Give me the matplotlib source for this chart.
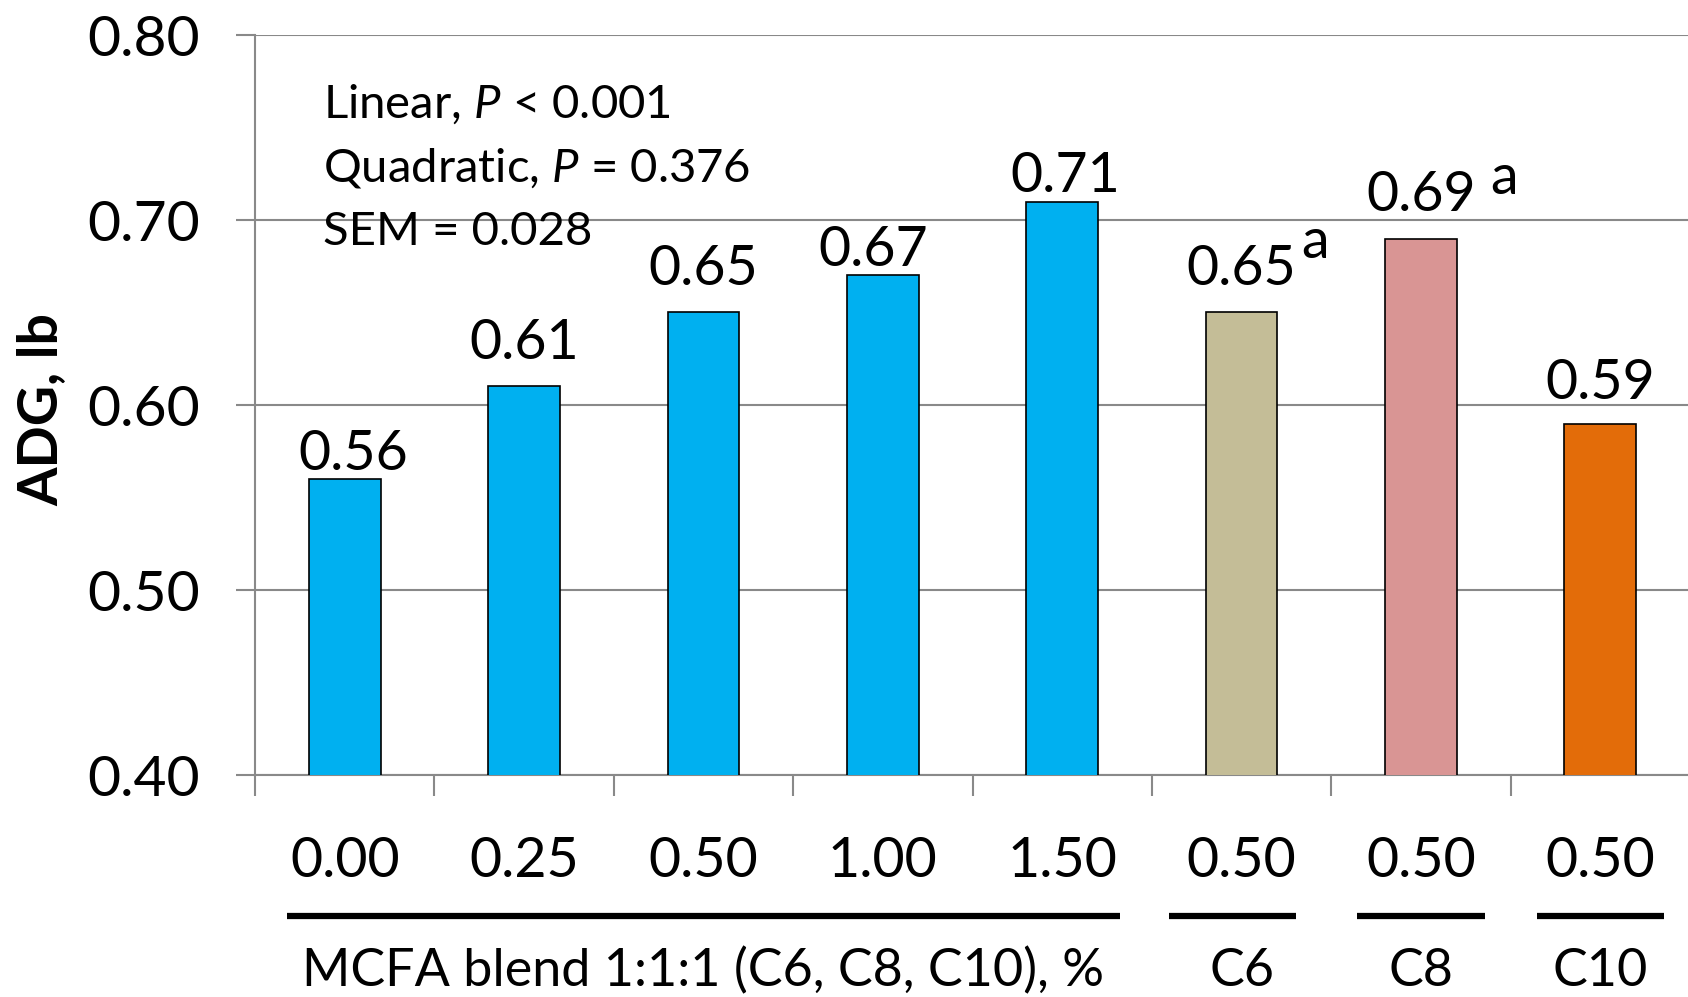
import numpy as np
import matplotlib as mpl
import matplotlib.pyplot as plt
from matplotlib.transforms import blended_transform_factory

mpl.rcParams.update({
    'font.family': ['Lato', 'DejaVu Sans'],
    'mathtext.fontset': 'custom',
    'mathtext.rm': 'Lato',
    'mathtext.it': 'Lato:italic',
})

# data
doses = ['0.00', '0.25', '0.50', '1.00', '1.50', '0.50', '0.50', '0.50']
adg = [0.56, 0.61, 0.65, 0.67, 0.71, 0.65, 0.69, 0.59]
sup = ['', '', '', '', '', 'a', 'a', '']
groups = ['MCFA blend 1:1:1 (C6, C8, C10), %', 'C6', 'C8', 'C10']
group_first = [0, 5, 6, 7]
group_last = [4, 5, 6, 7]
stats = ['Linear, $\\it{P}$ < 0.001', 'Quadratic, $\\it{P}$ = 0.376', 'SEM = 0.028']

# style
colors = ['#00B0F0'] * 5 + ['#C4BD97', '#D99594', '#E36C09']
label_lift = [6.5, 20, 20, 6.5, 6.5, 20, 20, 18]   # pt above bar top
label_dx = [6, 0, 0, -7, 2, 0, 0, 0]               # pt
sup_dx = [0, 0, 0, 0, 0, 43, 50, 0]                 # pt right of bar centre
sup_dy = [0, 0, 0, 0, 0, 19, 12, 0]                 # pt above label baseline
group_dx = [0, -0.05, 0, 0]
gray = '#898989'

fig = plt.figure(figsize=(16.88, 9.97), dpi=100)
ax = fig.add_axes([255 / 1688, 1 - 775 / 997, 1435 / 1688, 740 / 997])

x = np.arange(len(adg))
ax.bar(x, adg, width=0.4, color=colors, edgecolor='black', linewidth=1.2, zorder=3)

ax.set_xlim(-0.5, len(adg) - 0.5)
ax.set_ylim(0.40, 0.80)
ax.set_yticks([0.40, 0.50, 0.60, 0.70, 0.80])
ax.set_yticklabels(['0.40', '0.50', '0.60', '0.70', '0.80'], fontsize=41)
ax.yaxis.grid(True, color=gray, linewidth=1.5, zorder=0)
ax.set_xticks(np.arange(-0.5, len(adg), 1))
ax.set_xticklabels([])
ax.tick_params(axis='y', length=13.7, width=1.5, color=gray, pad=26)
ax.tick_params(axis='x', length=15, width=1.5, color=gray)
for s in ['top', 'right']:
    ax.spines[s].set_visible(False)
ax.spines['left'].set_color(gray)
ax.spines['bottom'].set_color(gray)
ax.spines['left'].set_linewidth(1.5)
ax.spines['bottom'].set_linewidth(1.5)

# value labels
for i, v in enumerate(adg):
    ax.annotate(f'{v:.2f}', (x[i], v), xytext=(label_dx[i], label_lift[i]),
                textcoords='offset points', ha='center', va='baseline', fontsize=40)
    if sup[i]:
        ax.annotate(sup[i], (x[i], v), xytext=(sup_dx[i], label_lift[i] + sup_dy[i]),
                    textcoords='offset points', ha='left', va='baseline', fontsize=40)

# category labels and group bars under the axis
tr = blended_transform_factory(ax.transData, ax.transAxes)
for i, d in enumerate(doses):
    ax.text(x[i], -0.117, d, transform=tr, ha='center', va='center', fontsize=40)
for name, a, b, dx in zip(groups, group_first, group_last, group_dx):
    pad = 0.32 if a != b else 0.355
    ax.plot([a - pad + dx, b + pad + dx], [-0.191, -0.191], transform=tr, color='black',
            linewidth=4.5, solid_capstyle='butt', clip_on=False)
    ax.text((a + b) / 2, -0.265, name, transform=tr, ha='center', va='center', fontsize=37.5)

# stats box
for k, s in enumerate(stats):
    fig.text(323 / 1688, 1 - (104 + 64 * k) / 997, s, ha='left', va='center', fontsize=34)

fig.text(41 / 1688, 1 - 409 / 997, 'ADG, lb', rotation=90, ha='center', va='center',
         fontsize=40, fontweight='bold')

fig.savefig('out.png', dpi=100)
